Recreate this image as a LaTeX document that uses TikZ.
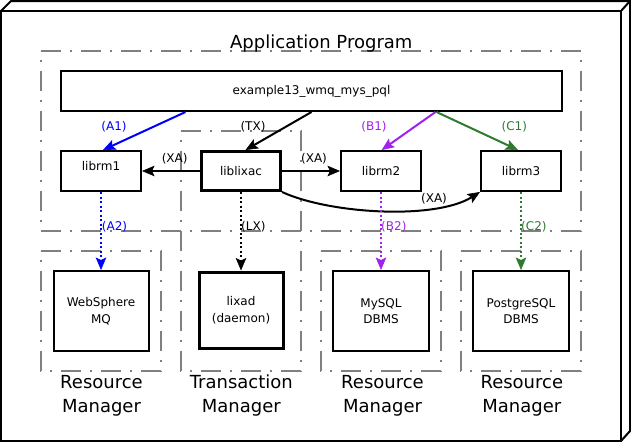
\documentclass[tikz,border=0pt]{standalone}
\usepackage{fontspec}
\setmainfont{DejaVu Sans}
\usetikzlibrary{arrows.meta}
\definecolor{rmblue}{RGB}{0,0,255}
\definecolor{rmpurple}{RGB}{160,32,240}
\definecolor{rmgreen}{RGB}{46,122,46}
\definecolor{clgray}{RGB}{128,128,128}
\begin{document}
\begin{tikzpicture}[x=1pt,y=-1pt,
  box/.style={draw, line width=2pt, inner sep=0pt, minimum width=80pt, minimum height=40pt, font=\fontsize{12}{16.7}\selectfont, align=center},
  tmbox/.style={box, line width=3pt},
  cluster/.style={draw=clgray, line width=1.8pt, dash pattern=on 20pt off 9pt on 2pt off 9pt},
  clabel/.style={font=\fontsize{18}{24}\selectfont, anchor=base, inner sep=0pt},
  elabel/.style={font=\fontsize{12}{14}\selectfont, anchor=base, inner sep=0pt},
  edge/.style={line width=2pt, -{Stealth[length=12.5pt,width=10.5pt,inset=2.5pt,line width=0.6pt]}},
  dotedge/.style={edge, dash pattern=on 2pt off 2.5pt},
]
\useasboundingbox (0,0) rectangle (631,442);
% outer 3d frame
\draw[line width=2pt, line join=miter] (1,11) rectangle (621,441);
\draw[line width=2pt, line join=miter] (1,11) -- (11,1) -- (630,1) -- (630,431) -- (621,441);
\draw[line width=2pt] (621,11) -- (630,1);
% clusters
\draw[cluster] (41,51) -- (581,51) -- (581,231) -- (41,231) -- cycle;
\draw[cluster] (181,131) -- (301,131) -- (301,371) -- (181,371) -- cycle;
\draw[cluster] (41,251) -- (161,251) -- (161,371) -- (41,371) -- cycle;
\draw[cluster] (321,251) -- (441,251) -- (441,371) -- (321,371) -- cycle;
\draw[cluster] (461,251) -- (581,251) -- (581,371) -- (461,371) -- cycle;
% cluster labels
\node[clabel] (aplabel) at (321.3,48.3) {Application Program};
\node[clabel] (rm1a) at (101.5,388.5) {Resource};
\node[clabel] (rm1b) at (101.5,412.5) {Manager};
\node[clabel] (tma) at (241.3,388.5) {Transaction};
\node[clabel] (tmb) at (241.3,412.5) {Manager};
\node[clabel] (rm2a) at (382.5,388.5) {Resource};
\node[clabel] (rm2b) at (382.5,412.5) {Manager};
\node[clabel] (rm3a) at (521.8,388.5) {Resource};
\node[clabel] (rm3b) at (521.8,412.5) {Manager};
% nodes
\node[box, minimum width=501pt] (top) at (311.5,91) {example13\_wmq\_mys\_pql};
\node[box] (librm1) at (101,171) {\raisebox{5pt}[\height][\depth]{librm1}};
\node[tmbox, minimum width=79pt, minimum height=39pt] (liblixac) at (241,171) {liblixac};
\node[box] (librm2) at (381,171) {librm2};
\node[box] (librm3) at (521,171) {librm3};
\node[box, minimum width=95pt, minimum height=80pt] (wmq) at (101,311) {WebSphere\\MQ};
\node[tmbox, minimum width=84pt, minimum height=76pt] (lixad) at (241,310) {lixad\\(daemon)};
\node[box, minimum width=96pt, minimum height=80pt] (mysql) at (381,311) {MySQL\\DBMS};
\node[box, minimum width=96pt, minimum height=80pt] (pgsql) at (521,311) {PostgreSQL\\DBMS};
% edges
\draw[edge, rmblue] ([xshift=-126pt]top.south) -- ([xshift=2pt]librm1.north);
\draw[edge] (top.south) -- ([xshift=4.5pt]liblixac.north);
\draw[edge, rmpurple] ([xshift=124pt]top.south) -- ([xshift=0.7pt]librm2.north);
\draw[edge, rmgreen] ([xshift=125pt]top.south) -- ([xshift=-3pt]librm3.north);
\draw[edge] (liblixac.west) -- (librm1.east);
\draw[edge] (liblixac.east) -- (librm2.west);
\draw[edge] (liblixac.south east) .. controls (330,214) and (435,220) .. (librm3.south west);
\draw[dotedge, rmblue] (librm1.south) -- (wmq.north);
\draw[dotedge] (liblixac.south) -- (lixad.north);
\draw[dotedge, rmpurple] (librm2.south) -- (mysql.north);
\draw[dotedge, rmgreen] (librm3.south) -- (pgsql.north);
% edge labels
\node[elabel, rmblue] (la1) at (114,130.5) {(A1)};
\node[elabel] (ltx) at (253,130.5) {(TX)};
\node[elabel, rmpurple] (lb1) at (374,130.5) {(B1)};
\node[elabel, rmgreen] (lc1) at (514.3,130.5) {(C1)};
\node[elabel] (lxa1) at (174.7,162.3) {(XA)};
\node[elabel] (lxa2) at (314,162.3) {(XA)};
\node[elabel] (lxa3) at (434,202) {(XA)};
\node[elabel, rmblue, anchor=base west] (la2) at (101.7,230.5) {(A2)};
\node[elabel, anchor=base west] (llx) at (241,230.5) {(LX)};
\node[elabel, rmpurple, anchor=base west] (lb2) at (381,230.5) {(B2)};
\node[elabel, rmgreen, anchor=base west] (lc2) at (521,230.5) {(C2)};
\end{tikzpicture}
\end{document}
